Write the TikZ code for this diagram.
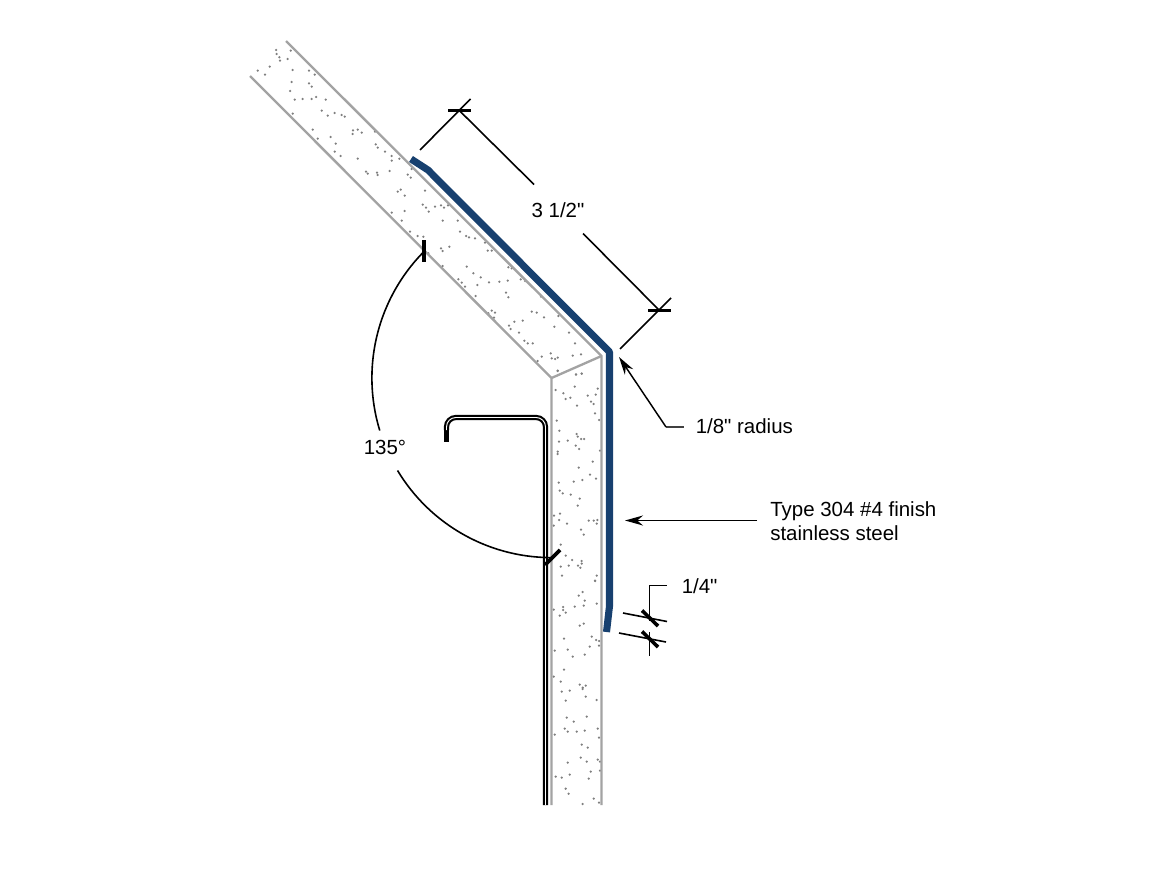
\documentclass[tikz,border=0pt]{standalone}
\usepackage{fontspec}
\setmainfont[Ligatures=TeXOff]{Liberation Sans}
\usetikzlibrary{arrows.meta}
\definecolor{steelblue}{HTML}{17406F}
\definecolor{wallgrey}{HTML}{A3A3A3}
\definecolor{dotgrey}{HTML}{7F7F7F}
\newcommand{\stipple}[3]{\foreach \a/\b in {#3} \fill[dotgrey] ({#1+\a/3},{#2+\b/3}) circle (1.25);}
\tikzset{
  x=0.75pt,y=-0.75pt,
  wall/.style={draw=wallgrey,line width=1.75pt},
  dimline/.style={draw=black,line width=1.2pt},
  heavyline/.style={draw=black,line width=1.4pt},
  tickmark/.style={draw=black,line width=2.7pt},
  label/.style={inner sep=0pt,anchor=west,font=\fontsize{15.35}{18}\selectfont,align=left},
  pointer/.style={draw=black,line width=1.3pt,-{Stealth[length=13.5pt,width=7.5pt]}},
}
\begin{document}
\begin{tikzpicture}
\useasboundingbox (0,0) rectangle (1169,877);
% stipple
\stipple{240}{30}{108/60,110/72,118/82,120/92,152/62,143/87,53/122,75/134,89/110,158/120,207/122,224/134,155/156,207/160,215/170,150/183,164/209,188/207,215/207,228/201,257/209,158/251,245/242,263/257,284/249,305/255,314/260,218/299,233/326,272/321,287/341,284/365,302/378,353/299,339/301,338/312,365/308,405/305,407/343,413/353,435/365,455/378,455/392,478/386,353/386,378/425,383/431,411/428,413/435,449/423,503/434,512/443,515/417,555/482,482/479,473/485,494/497,548/524,558/533,566/545,585/530,603/526,612/533,624/526,455/548,494/543,485/572,608/572,653/572}
\stipple{360}{180}{150/155,173/168,190/170,195/215,205/220,243/205,248/213,268/200,300/155,318/168,327/172,345/175,375/188,383/212,395/212,248/258,320/260,340/280,362/292,295/298,305/308,315/320,352/315,387/307,418/305,443/302,445/262,455/265,482/298,495/303,438/338,445/352,347/348,543/350,395/392,405/398,385/400,402/413,515/395,530/398,552/412,595/408,488/422,463/425,447/437,452/447,583/440,477/458,627/458,493/482,503/490,518/490,645/490,533/543,545/530,572/520,575/535,585/537,593/533,638/527,663/523,593/573,648/583,665/581}
\stipple{545}{360}{38/32,93/44,110/41,89/80,32/90,55/100,62/117,76/113,96/137,128/107,152/104,158/86,138/125,146/132,150/160,162/180,35/182,43/212,95/222,98/230,108/237,117/237,42/245,68/242,92/257,102/267,165/272,38/275,38/282,143/305,101/323,135/344,153/356,41/368,86/365,112/360,44/392,53/400,77/404,104/416,98/437,45/461,27/467,42/480,26/497,66/491,131/482,146/482,157/480,155/491,108/509,116/524,47/554,62/587,81/600,110/603,110/611,99/617,106/623,47/620,71/617,51/647,155/647,150/662}
\stipple{545}{580}{150/3,113/36,101/47,119/62,116/77,155/71,89/80,54/81,54/90,26/89,62/98,44/107,116/131,104/137,140/170,153/180,162/183,162/197,134/200,57/176,29/212,68/209,83/230,119/224,57/269,26/290,47/305,104/314,122/317,113/323,113/327,50/335,74/332,122/350,62/362,155/360,65/413,125/410,86/425,59/446,68/455,158/446,29/464,95/455,119/452,162/473,110/494,128/503,107/533,125/545,158/539,165/545,68/548,32/590,50/593,74/584,137/575,165/572,131/596,62/626,71/641,146/656,162/668,113/672}
% wall
\coordinate (outerTop) at (286,41);
\coordinate (outerCorner) at (601.5,356);
\coordinate (outerBottom) at (601.5,805);
\coordinate (innerTop) at (250,76);
\coordinate (innerCorner) at (551.5,378);
\coordinate (innerBottom) at (551.5,805);
\draw[wall] (outerTop) -- (outerCorner) -- (outerBottom);
\draw[wall] (innerTop) -- (innerCorner) -- (innerBottom);
\draw[wall] (innerCorner) -- (outerCorner);
% stainless steel
\draw[draw=steelblue,line width=5.3pt,line join=round] (411,159) -- (428,170) -- (609.5,352) -- (609.5,606) -- (606.5,632);
% bracket
\draw[black,line width=3.9pt] (446.5,425) -- (446.5,441.5);
\draw[black,line width=1.6pt,double=white,double distance=0.7pt,rounded corners=7pt] (446.5,430) -- (446.5,417.5) -- (545.5,417.5) -- (545.5,805);
% 3 1/2 dimension
\coordinate (extA1) at (420,150);
\coordinate (extA2) at (470.5,99);
\coordinate (tickAl) at (448,110.7);
\coordinate (tickAr) at (471,110.7);
\coordinate (dimA) at (459.5,110.7);
\coordinate (dimB) at (659.5,310.5);
\coordinate (extB1) at (620,349);
\coordinate (extB2) at (671,298);
\coordinate (tickBl) at (648,310.5);
\coordinate (tickBr) at (671,310.5);
\node[label,anchor=center] (lblA) at (558,210) {3 1/2"};
\draw[dimline] (extA1) -- (extA2);
\draw[tickmark] (tickAl) -- (tickAr);
\draw[dimline] (extB1) -- (extB2);
\draw[tickmark] (tickBl) -- (tickBr);
\draw[dimline] (dimA) -- (534,184.5);
\draw[dimline] (583,233.5) -- (dimB);
% radius leader
\node[label] (lblR) at (695.5,426) {1/8" radius};
\coordinate (elbowR) at (666,427);
\coordinate (tipR) at (619,357);
\draw[dimline,line width=0.8pt,draw=black!75] (lblR.west) ++(-12,1) -- (elbowR);
\draw[pointer,line width=1.1pt] (elbowR) -- (tipR);
% material leader
\node[label] (lblT) at (770,521) {Type 304 \#4 finish\\stainless steel};
\coordinate (tailT) at (757,520.5);
\coordinate (tipT) at (625,520.5);
\draw[pointer] (tailT) -- (tipT);
% 1/4 dimension
\node[label] (lblQ) at (681.5,586) {1/4"};
\coordinate (q1) at (666.5,585.5);
\coordinate (q2) at (649.5,585.5);
\coordinate (q3) at (649.5,621);
\coordinate (q4) at (649.5,632);
\coordinate (q5) at (649.5,656);
\draw[heavyline] (q1) -- (q2) -- (q3);
\draw[heavyline] (q4) -- (q5);
\coordinate (e1a) at (623,613);
\coordinate (e1b) at (667,621.5);
\coordinate (e2a) at (619,633);
\coordinate (e2b) at (666,642);
\draw[dimline] (e1a) -- (e1b);
\draw[dimline] (e2a) -- (e2b);
\coordinate (s1a) at (642,610.5);
\coordinate (s1b) at (658,626);
\coordinate (s2a) at (642,631.5);
\coordinate (s2b) at (658,647);
\draw[tickmark] (s1a) -- (s1b);
\draw[tickmark] (s2a) -- (s2b);
% 135 degree dimension
\node[label,anchor=center] (lblD) at (385,447) {135°};
\draw[dimline,domain=225:163,samples=40,smooth] plot ({551.5+179.6*cos(\x)},{378+179.6*sin(\x)});
\draw[dimline,domain=149:90,samples=40,smooth] plot ({551.5+179.6*cos(\x)},{378+179.6*sin(\x)});
\coordinate (t1a) at (424,240);
\coordinate (t1b) at (424,262);
\coordinate (t2a) at (545,565);
\coordinate (t2b) at (560,550);
\draw[tickmark] (t1a) -- (t1b);
\draw[tickmark] (t2a) -- (t2b);
\end{tikzpicture}
\end{document}
